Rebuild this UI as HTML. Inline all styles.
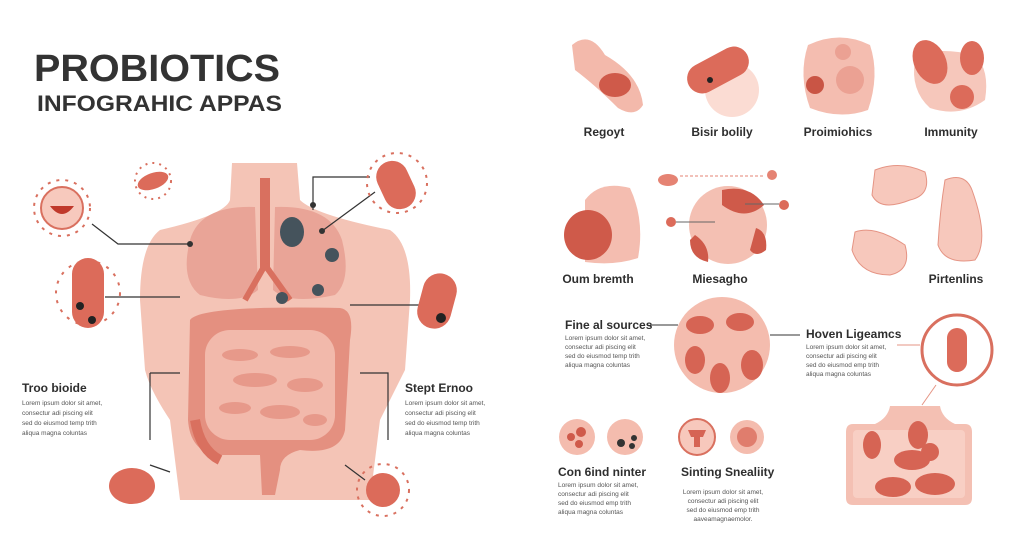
<!DOCTYPE html>
<html><head><meta charset="utf-8"><style>
html,body{margin:0;padding:0;background:#fff;width:1024px;height:558px;overflow:hidden}
svg{display:block}
text{font-family:"Liberation Sans",sans-serif}
.h{font-weight:bold;fill:#2e2e2e;font-size:12px}
.l{fill:#555;font-size:6.5px}
</style></head><body>
<svg width="1024" height="558" viewBox="0 0 1024 558">
<rect width="1024" height="558" fill="#fff"/>
<text x="34" y="81" font-size="38" font-weight="bold" fill="#333" textLength="246" lengthAdjust="spacingAndGlyphs">PROBIOTICS</text>
<text x="37" y="111" font-size="22" font-weight="bold" fill="#333" textLength="245" lengthAdjust="spacingAndGlyphs">INFOGRAHIC APPAS</text>

<!-- torso -->
<path d="M232 163 L297 163 L300 200 Q315 215 390 230 Q412 245 410 300 L405 370 Q395 390 380 420 L370 500 L180 500 L170 420 Q150 390 145 370 L140 300 Q140 245 160 230 Q225 215 230 200 Z" fill="#f4c4b6"/>
<path d="M255 207 Q200 205 190 240 Q180 280 200 295 Q240 305 258 290 Z" fill="#e9a497"/>
<path d="M275 207 Q330 205 342 240 Q352 280 335 295 Q290 305 273 290 Z" fill="#e9a497"/>
<rect x="260" y="178" width="10" height="90" fill="#d9705f"/>
<path d="M265 265 L245 300 M265 265 L290 300" stroke="#d9705f" stroke-width="6"/>
<ellipse cx="292" cy="232" rx="12" ry="15" fill="#45535c"/>
<circle cx="332" cy="255" r="7" fill="#45535c"/>
<circle cx="282" cy="298" r="6" fill="#45535c"/>
<circle cx="318" cy="290" r="6" fill="#45535c"/>
<path d="M190 320 Q200 305 340 308 Q355 310 350 340 L345 430 Q340 455 300 450 Q280 455 280 470 L275 495 L262 495 L260 455 L215 455 Q190 450 188 420 Z" fill="#e49080"/>
<rect x="205" y="330" width="130" height="110" rx="25" fill="#f2b9ab"/>
<g fill="#e7998a">
<ellipse cx="240" cy="355" rx="18" ry="6"/><ellipse cx="290" cy="352" rx="20" ry="6"/><ellipse cx="255" cy="380" rx="22" ry="7"/><ellipse cx="305" cy="385" rx="18" ry="7"/><ellipse cx="235" cy="408" rx="16" ry="6"/><ellipse cx="280" cy="412" rx="20" ry="7"/><ellipse cx="315" cy="420" rx="12" ry="6"/>
</g>
<path d="M195 420 Q200 450 220 460" stroke="#d9705f" stroke-width="10" fill="none"/>

<g stroke="#333" stroke-width="1.2" fill="none">
<path d="M92 224 L118 244 L190 244"/><path d="M105 297 L180 297"/>
<path d="M150 373 L180 373 M150 373 L150 440"/><path d="M313 210 L313 177 L370 177"/>
<path d="M322 231 L375 192"/><path d="M350 305 L420 305"/>
<path d="M360 373 L388 373 L388 440"/><path d="M150 465 L170 472"/><path d="M345 465 L365 480"/>
</g>
<circle cx="190" cy="244" r="3" fill="#333"/><circle cx="313" cy="205" r="3" fill="#333"/><circle cx="322" cy="231" r="3" fill="#333"/>

<g stroke="#d9705f" stroke-width="2" fill="none">
<circle cx="62" cy="208" r="28" stroke-dasharray="3 6"/>
<circle cx="397" cy="183" r="30" stroke-dasharray="3 6"/>
<circle cx="383" cy="490" r="26" stroke-dasharray="3 6"/>
<circle cx="88" cy="293" r="32" stroke-dasharray="3 7"/>
<circle cx="153" cy="181" r="18" stroke-dasharray="2 5"/>
</g>
<circle cx="62" cy="208" r="21" fill="#f7c9bd" stroke="#d9705f" stroke-width="2"/>
<path d="M50 206 Q62 222 74 206 Z" fill="#c0392b"/>
<ellipse cx="153" cy="181" rx="16" ry="8" fill="#dc6b5a" transform="rotate(-20 153 181)"/>
<rect x="72" y="258" width="32" height="70" rx="16" fill="#dc6b5a"/>
<circle cx="80" cy="306" r="4" fill="#222"/><circle cx="92" cy="320" r="4" fill="#222"/>
<rect x="380" y="160" width="32" height="50" rx="16" fill="#dc6b5a" transform="rotate(-25 396 185)"/>
<rect x="420" y="273" width="34" height="56" rx="17" fill="#dc6b5a" transform="rotate(15 437 301)"/>
<circle cx="441" cy="318" r="5" fill="#222"/>
<ellipse cx="132" cy="486" rx="23" ry="18" fill="#dc6b5a"/>
<circle cx="383" cy="490" r="17" fill="#dc6b5a"/>

<text x="22" y="392" class="h">Troo bioide</text>
<text x="22" y="405" class="l">Lorem ipsum dolor sit amet,</text><text x="22" y="415" class="l">consectur adi piscing elit</text><text x="22" y="425" class="l">sed do eiusmod temp trith</text><text x="22" y="435" class="l">aliqua magna coluntas</text>
<text x="405" y="392" class="h">Stept Ernoo</text>
<text x="405" y="405" class="l">Lorem ipsum dolor sit amet,</text><text x="405" y="415" class="l">consectur adi piscing elit</text><text x="405" y="425" class="l">sed do eiusmod temp trith</text><text x="405" y="435" class="l">aliqua magna coluntas</text>

<!-- right top row -->
<path d="M572 45 Q590 30 605 55 Q640 75 643 105 Q635 118 618 108 Q595 85 575 70 Z" fill="#f3b9ab"/>
<ellipse cx="615" cy="85" rx="16" ry="12" fill="#cf5a4a"/>
<circle cx="732" cy="90" r="27" fill="#fbdcd3"/>
<rect x="685" y="55" width="66" height="30" rx="15" fill="#dc6b5a" transform="rotate(-28 718 70)"/>
<circle cx="710" cy="80" r="3" fill="#222"/>
<path d="M808 45 Q840 30 870 45 Q880 75 868 110 Q840 120 810 108 Q798 75 808 45Z" fill="#f4bdb0"/>
<circle cx="815" cy="85" r="9" fill="#c95545"/><circle cx="850" cy="80" r="14" fill="#eba193"/><circle cx="843" cy="52" r="8" fill="#eba193"/>
<path d="M915 60 Q930 45 975 55 Q990 70 985 100 Q960 118 930 108 Q910 90 915 60Z" fill="#f6c7bb"/>
<ellipse cx="930" cy="62" rx="16" ry="23" fill="#dc6b5a" transform="rotate(-25 930 62)"/>
<ellipse cx="972" cy="58" rx="12" ry="17" fill="#dc6b5a"/>
<ellipse cx="962" cy="97" rx="12" ry="12" fill="#dc6b5a"/>
<g class="h" font-size="11" text-anchor="middle">
<text x="604" y="136">Regoyt</text><text x="722" y="136">Bisir bolily</text><text x="838" y="136">Proimiohics</text><text x="951" y="136">Immunity</text>
<text x="598" y="283">Oum bremth</text><text x="720" y="283">Miesagho</text><text x="956" y="283">Pirtenlins</text>
</g>
<!-- row 2 -->
<path d="M585 200 Q600 180 630 188 Q645 220 638 258 Q615 266 585 262 Z" fill="#f4bdb0"/>
<ellipse cx="588" cy="235" rx="24" ry="25" fill="#cf5a4a"/>
<circle cx="728" cy="225" r="39" fill="#f4c0b3"/>
<path d="M722 190 Q750 184 764 205 Q745 222 722 205Z" fill="#cf5a4a"/>
<path d="M695 235 Q710 245 708 262 Q690 258 690 240Z" fill="#cf5a4a"/>
<path d="M756 228 Q768 232 766 250 Q756 258 750 250Z" fill="#cf5a4a"/>
<ellipse cx="668" cy="180" rx="10" ry="6" fill="#e58373"/>
<line x1="680" y1="176" x2="765" y2="176" stroke="#e58373" stroke-dasharray="3 2"/>
<circle cx="772" cy="175" r="5" fill="#e58373"/>
<circle cx="671" cy="222" r="5" fill="#dc6b5a"/><circle cx="784" cy="205" r="5" fill="#dc6b5a"/>
<g stroke="#666" stroke-width="1"><line x1="676" y1="222" x2="715" y2="222"/><line x1="745" y1="204" x2="779" y2="204"/></g>
<path d="M875 170 Q900 160 925 172 Q932 195 910 200 Q880 212 872 195Z" fill="#f7c8bc" stroke="#e59484"/>
<path d="M855 232 Q875 225 905 245 Q912 270 890 275 Q860 275 852 250Z" fill="#f7c8bc" stroke="#e59484"/>
<path d="M945 180 Q965 172 972 190 Q990 240 975 260 Q945 265 938 245 Q940 210 945 180Z" fill="#f7c8bc" stroke="#e59484"/>

<!-- row 3 -->
<text x="565" y="329" class="h">Fine al sources</text>
<g class="l"><text x="565" y="340">Lorem ipsum dolor sit amet,</text><text x="565" y="349">consectur adi piscing elit</text><text x="565" y="358">sed do eiusmod temp trith</text><text x="565" y="367">aliqua magna coluntas</text></g>
<line x1="650" y1="325" x2="678" y2="325" stroke="#333"/>
<circle cx="722" cy="345" r="48" fill="#f4bcae"/>
<g fill="#d66454"><ellipse cx="700" cy="325" rx="14" ry="9"/><ellipse cx="740" cy="322" rx="14" ry="9"/><ellipse cx="695" cy="360" rx="10" ry="14"/><ellipse cx="720" cy="378" rx="10" ry="15"/><ellipse cx="752" cy="365" rx="11" ry="15"/></g>
<text x="806" y="338" class="h">Hoven Ligeamcs</text>
<g class="l"><text x="806" y="349">Lorem ipsum dolor sit amet,</text><text x="806" y="358">consectur adi piscing elit</text><text x="806" y="367">sed do eiusmod emp trith</text><text x="806" y="376">aliqua magna coluntas</text></g>
<line x1="770" y1="335" x2="800" y2="335" stroke="#333"/>
<line x1="897" y1="345" x2="920" y2="345" stroke="#e59484"/>
<line x1="936" y1="385" x2="922" y2="405" stroke="#e59484"/>
<circle cx="957" cy="350" r="35" fill="#fff" stroke="#d9705f" stroke-width="3"/>
<rect x="947" y="328" width="20" height="44" rx="10" fill="#dc6b5a"/>
<path d="M890 406 L940 406 Q942 418 955 424 L965 424 Q972 424 972 432 L972 498 Q972 505 965 505 L853 505 Q846 505 846 498 L846 432 Q846 424 853 424 L875 424 Q888 418 890 406Z" fill="#f4c0b3"/>
<rect x="853" y="430" width="112" height="68" rx="4" fill="#f8cfc4"/>
<g fill="#d66454"><ellipse cx="872" cy="445" rx="9" ry="14"/><ellipse cx="912" cy="460" rx="18" ry="10"/><ellipse cx="893" cy="487" rx="18" ry="10"/><ellipse cx="935" cy="484" rx="20" ry="11"/><ellipse cx="918" cy="435" rx="10" ry="14"/><circle cx="930" cy="452" r="9"/></g>
<!-- row 4 -->
<circle cx="577" cy="437" r="18" fill="#f4bcae"/><circle cx="571" cy="437" r="4" fill="#cf5a4a"/><circle cx="579" cy="444" r="4" fill="#cf5a4a"/><circle cx="581" cy="432" r="5" fill="#cf5a4a"/>
<circle cx="625" cy="437" r="18" fill="#f4bcae"/><circle cx="621" cy="443" r="4" fill="#333"/><circle cx="632" cy="446" r="3" fill="#333"/><circle cx="634" cy="438" r="3" fill="#333"/>
<circle cx="697" cy="437" r="18" fill="#f7c8bc" stroke="#d9705f" stroke-width="2"/><path d="M688 430 L706 430 L703 437 L700 437 L700 447 L694 447 L694 437 L691 437Z" fill="#d66454"/>
<circle cx="747" cy="437" r="17" fill="#f4bcae"/><circle cx="747" cy="437" r="10" fill="#e07d6d"/>
<text x="558" y="476" class="h">Con 6ind ninter</text>
<g class="l"><text x="558" y="487">Lorem ipsum dolor sit amet,</text><text x="558" y="496">consectur adi piscing elit</text><text x="558" y="505">sed do eiusmod emp trith</text><text x="558" y="514">aliqua magna coluntas</text></g>
<text x="681" y="476" class="h">Sinting Snealiity</text>
<g class="l" text-anchor="middle"><text x="723" y="494">Lorem ipsum dolor sit amet,</text><text x="723" y="503">consectur adi piscing elit</text><text x="723" y="512">sed do eiusmod emp trith</text><text x="723" y="521">aaveamagnaemolor.</text></g>
</svg>
</body></html>
